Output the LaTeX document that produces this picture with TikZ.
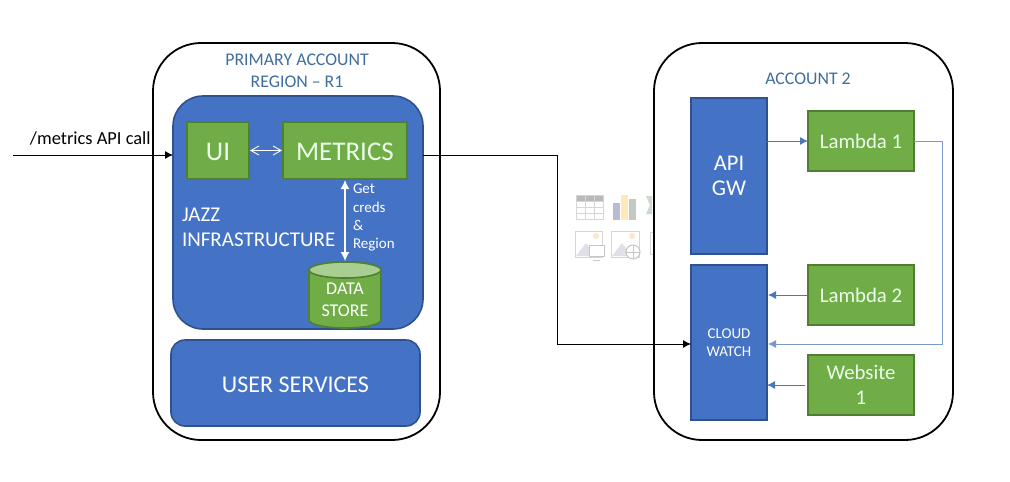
\documentclass[tikz,border=0pt]{standalone}
\usepackage{fontspec}
\setmainfont{Carlito}
\usetikzlibrary{arrows.meta,calc}
\definecolor{bluefill}{HTML}{4472C4}
\definecolor{blueedge}{HTML}{2F528F}
\definecolor{greenfill}{HTML}{70AD47}
\definecolor{greenedge}{HTML}{507E32}
\definecolor{greentop}{HTML}{A9CE91}
\definecolor{headtext}{HTML}{3F6E9E}
\definecolor{linkblue}{HTML}{4A78B8}
\definecolor{ghostgrey}{HTML}{D6D6D6}
\newcommand{\lowertext}[1]{\raisebox{-1.5pt}[\height][\depth]{#1}}
\tikzset{
  x=1pt,y=-1pt,
  every node/.style={font=\fontsize{15}{19}\selectfont,align=center,inner sep=0pt,outer sep=0pt},
  account/.style={draw=black,line width=1.8pt,fill=white,rounded corners=48pt},
  bluebox/.style={draw=blueedge,line width=1.6pt,fill=bluefill,text=white},
  greenbox/.style={draw=greenedge,line width=1.6pt,fill=greenfill,text=white!92!green},
  heading/.style={text=headtext,font=\fontsize{17.8}{22}\selectfont},
  link/.style={draw=linkblue,line width=0.9pt,-{Latex[length=8pt,width=8pt]}},
  blackline/.style={draw=black,line width=0.9pt,-{Latex[length=8pt,width=8pt]}},
  whitelabel/.style={text=white,align=left},
  ghost/.style={draw=ghostgrey,line width=1pt,fill=none},
}
\begin{document}
\begin{tikzpicture}
\useasboundingbox (0,0) rectangle (1010,482);
\fill[white] (0,0) rectangle (1010,482);

% faded icons behind the connector
\begin{scope}
  \fill[gray!55] (576,195) rectangle (603,201);
  \draw[ghost] (576,195) rectangle (603,219);
  \foreach \yy in {201,207,213} \draw[ghost,line width=.6pt] (576,\yy) -- (603,\yy);
  \foreach \xx in {585,594} \draw[ghost,line width=.6pt] (\xx,195) -- (\xx,219);
  \fill[blue!20!gray!45] (613,203) rectangle (620,220);
  \fill[yellow!40!orange!25] (621,195) rectangle (628,220);
  \fill[gray!45] (629,199) rectangle (636,220);
  \fill[green!15!gray!35] (646,196) -- (652,196) -- (652,214) -- (646,214) -- (650,205) -- cycle;
  \draw[ghost] (575,231) rectangle (602,257);
  \fill[blue!20!gray!20] (576,256) -- (586,243) -- (596,256) -- cycle;
  \fill[orange!20] (596,236) circle (3pt);
  \draw[ghost,gray!45,fill=white] (589,245) rectangle (604,256);
  \draw[ghost,gray!45] (593,260) -- (600,260);
  \draw[ghost] (611,231) rectangle (639,257);
  \fill[blue!20!gray!20] (612,256) -- (622,243) -- (632,256) -- cycle;
  \fill[orange!20] (632,236) circle (3pt);
  \draw[ghost,gray!45,fill=white] (633,252) circle (7pt);
  \draw[ghost,gray!45,line width=.5pt] (626,252) -- (640,252) (633,245) -- (633,259);
  \draw[ghost] (650,232) -- (650,254);
  \draw[ghost] (650,232) -- (653,232) (650,254) -- (653,254);
\end{scope}

% account frames
\node[account,minimum width=287pt,minimum height=397pt] (primary) at (296.5,241.5) {};
\node[account,minimum width=299pt,minimum height=397pt] (second) at (803.5,241.5) {};
\node[heading] (primaryhead) at (297,71) {PRIMARY ACCOUNT\\REGION – R1};
\node[heading] (secondhead) at (808,79) {ACCOUNT 2};

% primary account
\node[bluebox,rounded corners=30pt,minimum width=250pt,minimum height=233pt] (jazz) at (298,212.5) {};
\node[bluebox,rounded corners=14pt,minimum width=249pt,minimum height=86pt,font=\fontsize{24}{28}\selectfont] (services) at (295.5,383) {\lowertext{USER SERVICES}};
\node[greenbox,minimum width=62pt,minimum height=57pt,font=\fontsize{27}{30}\selectfont] (ui) at (218,150.5) {\lowertext{UI}};
\node[greenbox,minimum width=124pt,minimum height=57pt,font=\fontsize{27}{30}\selectfont] (metrics) at (345,150.5) {\lowertext{METRICS}};
\node[whitelabel,font=\fontsize{21}{25}\selectfont,anchor=west] (jazzlabel) at (182,227) {JAZZ\\INFRASTRUCTURE};

% data store cylinder
\path[fill=greenfill,draw=greenedge,line width=1.6pt]
  (309,270) -- (309,320) arc[start angle=180,end angle=0,x radius=36,y radius=8] -- (381,270)
  arc[start angle=0,end angle=-180,x radius=36,y radius=8] -- cycle;
\path[fill=greentop,draw=greenedge,line width=1.6pt] (345,270) ellipse[x radius=36,y radius=8];
\node[text=white,font=\fontsize{18}{22.5}\selectfont] (storelabel) at (345,300) {DATA\\STORE};
\coordinate (storetop) at (345,261);
\node[whitelabel,font=\fontsize{15}{18.3}\selectfont,anchor=north west] (credslabel) at (353,184) {Get\\creds\\\&\\Region};
\draw[draw=white,line width=.9pt,{Straight Barb[length=8pt,width=9pt]}-{Straight Barb[length=8pt,width=9pt]}] ($(ui.east)+(1,0)$) -- ($(metrics.west)+(-1,0)$);
\draw[draw=white,line width=1.3pt,{Latex[length=9pt,width=9pt]}-{Latex[length=9pt,width=9pt]}] ($(metrics.south)+(0,1)$) -- (storetop);

% incoming and crossing connectors
\coordinate (callstart) at (13,155);
\coordinate (crossa) at (557,155);
\coordinate (crossb) at (557,344);
\node[font=\fontsize{18.4}{22}\selectfont,anchor=west] (calllabel) at (30,139) {/metrics API call};

% account 2
\node[bluebox,minimum width=76pt,minimum height=156pt,font=\fontsize{22.5}{25}\selectfont] (api) at (729,176) {API\\GW};
\node[bluebox,minimum width=76pt,minimum height=155pt,font=\fontsize{15}{18}\selectfont] (cloud) at (729,342.5) {CLOUD\\WATCH};
\node[greenbox,minimum width=106pt,minimum height=60pt,font=\fontsize{20.8}{25}\selectfont] (lambdaone) at (861,141) {Lambda 1};
\node[greenbox,minimum width=106pt,minimum height=60pt,font=\fontsize{20.8}{25}\selectfont] (lambdatwo) at (861,295) {Lambda 2};
\node[greenbox,minimum width=106pt,minimum height=60pt,font=\fontsize{20.8}{25}\selectfont] (website) at (861,385) {Website\\1};

\draw[blackline] (callstart) -- (callstart -| jazz.west);
\draw[blackline] (jazz.east |- crossa) -- (crossa) -- (crossb) -- (crossb -| cloud.west);

\draw[link] (api.east |- lambdaone) -- (lambdaone.west);
\draw[link] (lambdatwo.west) -- ($(lambdatwo.west -| cloud.east)+(1,0)$);
\coordinate (returnc) at (942,344);
\coordinate (returnb) at (942,141);
\draw[link,draw=linkblue!75!white] (lambdaone.east) -- (returnb) -- (returnc) -- ($(returnc -| cloud.east)+(1,0)$);
\coordinate (webstart) at (805,385);
\draw[link] (webstart) -- (webstart -| cloud.east);
\end{tikzpicture}
\end{document}
